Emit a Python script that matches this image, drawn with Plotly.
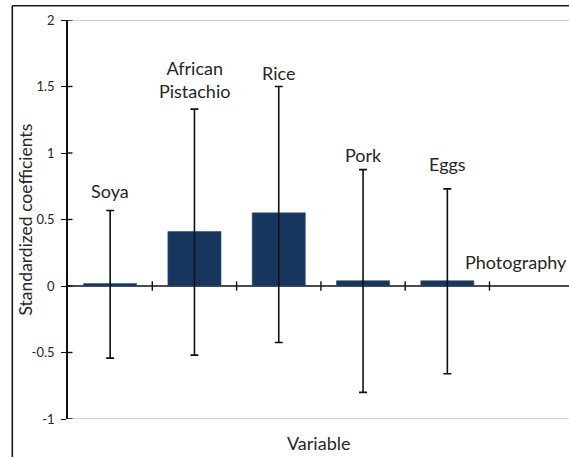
import plotly.graph_objects as go

# ---- data ----
categories = ["Soya", "African Pistachio", "Rice", "Pork", "Eggs", "Photography"]
label_text = ["Soya", "African<br>Pistachio", "Rice", "Pork", "Eggs", "Photography"]
coef = [0.018, 0.41, 0.55, 0.04, 0.04, 0.0]
err_plus = [0.55, 0.92, 0.95, 0.835, 0.69, 0.0]
err_minus = [0.56, 0.93, 0.975, 0.84, 0.70, 0.0]
label_y = [0.715, 1.55, 1.605, 0.986, 0.916, 0.177]
y_ticks = [-1, -0.5, 0, 0.5, 1, 1.5, 2]
y_tick_text = ["-1", "-0.5", "0", "0.5", "1", "1.5", "2"]

W, H = 569, 457
ML, MR, MT, MB = 68, 0, 20, 38
plot_w = W - ML - MR
plot_h = H - MT - MB
cat_px = 84.3
x_hi = -0.5 + plot_w / cat_px

FONT = "Lato, 'Open Sans', sans-serif"
TXT = "#262626"
BAR = "#17365d"

idx = list(range(len(categories)))
show = [i for i in idx if coef[i] != 0 or err_plus[i] != 0]

fig = go.Figure()
fig.add_trace(go.Bar(
    x=[idx[i] for i in show],
    y=[coef[i] for i in show],
    marker=dict(color=BAR, line=dict(color="#2c5282", width=0.6)),
    width=0.63,
    error_y=dict(type="data", symmetric=False,
                 array=[err_plus[i] for i in show],
                 arrayminus=[err_minus[i] for i in show],
                 color="#111111", thickness=1.6, width=4),
    showlegend=False,
    hoverinfo="skip",
))

# category labels
for i in idx:
    xs = 0
    if categories[i] == "Photography":
        xs = -16
    fig.add_annotation(x=idx[i], y=label_y[i], text=label_text[i], showarrow=False,
                       xref="x", yref="y", xshift=xs,
                       font=dict(family=FONT, size=18, color=TXT),
                       xanchor="center", yanchor="middle")

shapes = []
# gray top/bottom border lines of plot area
for yv in (y_ticks[0], y_ticks[-1]):
    shapes.append(dict(type="line", xref="paper", yref="y", x0=0, x1=1.02, y0=yv, y1=yv,
                       line=dict(color="#a6a6a6", width=1.2), layer="below"))
# outer frame (left and top)
fx = -(ML - 12.3) / plot_w
fy = 1 + (MT - 5.7) / plot_h
shapes.append(dict(type="line", xref="paper", yref="paper", x0=fx, x1=fx,
                   y0=-0.2, y1=fy, line=dict(color="#1a1a1a", width=1.6)))
shapes.append(dict(type="line", xref="paper", yref="paper", x0=fx, x1=1.05,
                   y0=fy, y1=fy, line=dict(color="#1a1a1a", width=1.6)))
# x-axis cross ticks at category boundaries on the zero line
for i in idx[:-1]:
    shapes.append(dict(type="line", xref="x", yref="y", x0=i + 0.5, x1=i + 0.5,
                       y0=-0.035, y1=0.035, line=dict(color="#111111", width=1.4)))
# zero line
shapes.append(dict(type="line", xref="paper", yref="y", x0=0, x1=1.02, y0=0, y1=0,
                   line=dict(color="#111111", width=1.4), layer="below"))
# y-axis inner tick halves
for t in y_ticks:
    shapes.append(dict(type="line", xref="paper", yref="y", x0=0, x1=4.5 / plot_w, y0=t, y1=t,
                       line=dict(color="#111111", width=1.4)))

fig.update_layout(
    width=W, height=H,
    margin=dict(l=ML, r=MR, t=MT, b=MB, pad=0),
    paper_bgcolor="white", plot_bgcolor="white",
    bargap=0.37,
    shapes=shapes,
    xaxis=dict(range=[-0.5, x_hi], showticklabels=False, showgrid=False, zeroline=False,
               showline=False, ticks="", fixedrange=True),
    yaxis=dict(range=[-1, 2], tickvals=y_ticks, ticktext=y_tick_text,
               showgrid=False, zeroline=False, showline=True, linecolor="#111111", linewidth=1.6,
               ticks="outside", ticklen=5, tickwidth=1.4, tickcolor="#111111",
               ticklabelstandoff=4,
               tickfont=dict(family=FONT, size=13, color=TXT)),
    font=dict(family=FONT, color=TXT),
)
fig.add_annotation(x=0.5, y=-1, xref="paper", yref="y", yshift=-24, text="Variable",
                   showarrow=False, font=dict(family=FONT, size=18, color=TXT),
                   xanchor="center", yanchor="middle")
fig.add_annotation(x=-(ML - 25) / plot_w, y=0.5, xref="paper", yref="y", text="Standardized coefficients",
                   textangle=-90, showarrow=False, font=dict(family=FONT, size=17.5, color=TXT),
                   xanchor="center", yanchor="middle")

fig.write_html("out.html", config={"displayModeBar": False},
               post_script="document.body.style.margin='0px';document.body.style.overflow='hidden';")
